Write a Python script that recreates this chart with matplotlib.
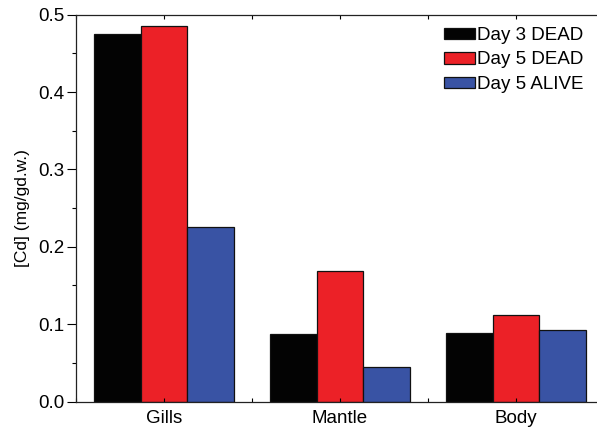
import numpy as np
import matplotlib
matplotlib.use("Agg")
import matplotlib.pyplot as plt
from matplotlib.ticker import MultipleLocator

plt.rcParams['font.family'] = ['Liberation Sans', 'DejaVu Sans']

tissues = ["Gills", "Mantle", "Body"]
groups = ["Day 3 DEAD", "Day 5 DEAD", "Day 5 ALIVE"]
day3_dead = [0.475, 0.087, 0.088]
day5_dead = [0.486, 0.169, 0.112]
day5_alive = [0.226, 0.045, 0.093]
colors = ["#030303", "#ec2127", "#3953a4"]

fig = plt.figure(figsize=(5.97, 4.30), dpi=100)
ax = fig.add_axes([76 / 597, 1 - 401.5 / 430, 528 / 597, (401.5 - 14.7) / 430])

x = np.arange(len(tissues))
w = 0.267
for i, (vals, lab, c) in enumerate(zip([day3_dead, day5_dead, day5_alive], groups, colors)):
    ax.bar(x + (i - 1) * w, vals, width=w, color=c, edgecolor="#111111",
           linewidth=0.9, label=lab)

ax.set_xlim(-0.5, 2.5)
ax.set_ylim(0, 0.5)
ax.set_xticks(x)
ax.set_xticklabels(tissues)
ax.xaxis.set_minor_locator(MultipleLocator(0.5))
ax.yaxis.set_major_locator(MultipleLocator(0.1))
ax.yaxis.set_minor_locator(MultipleLocator(0.05))
ax.yaxis.set_major_formatter(plt.FuncFormatter(lambda v, p: f"{v:.1f}"))

ax.tick_params(axis="x", which="both", direction="in", length=3, width=0.8,
               top=True, labelsize=13.5, pad=6)
ax.tick_params(axis="y", which="major", direction="out", length=6.5, width=0.8,
               labelsize=13.5, pad=2)
ax.tick_params(axis="y", which="minor", direction="out", length=3, width=0.8)
ax.spines["right"].set_visible(False)
for s in ["left", "bottom", "top"]:
    ax.spines[s].set_linewidth(0.9)
    ax.spines[s].set_color("#222222")

ax.set_ylabel("[Cd] (mg/gd.w.)", fontsize=12.5, labelpad=6)

ax.legend(loc="upper left", bbox_to_anchor=(444 / 597, 1 - 27 / 430),
          bbox_transform=fig.transFigure, frameon=False, fontsize=13.5,
          handlelength=1.65, handleheight=0.55, handletextpad=0.12,
          labelspacing=0.4, borderpad=0, borderaxespad=0)

fig.savefig("out.png", dpi=100)
